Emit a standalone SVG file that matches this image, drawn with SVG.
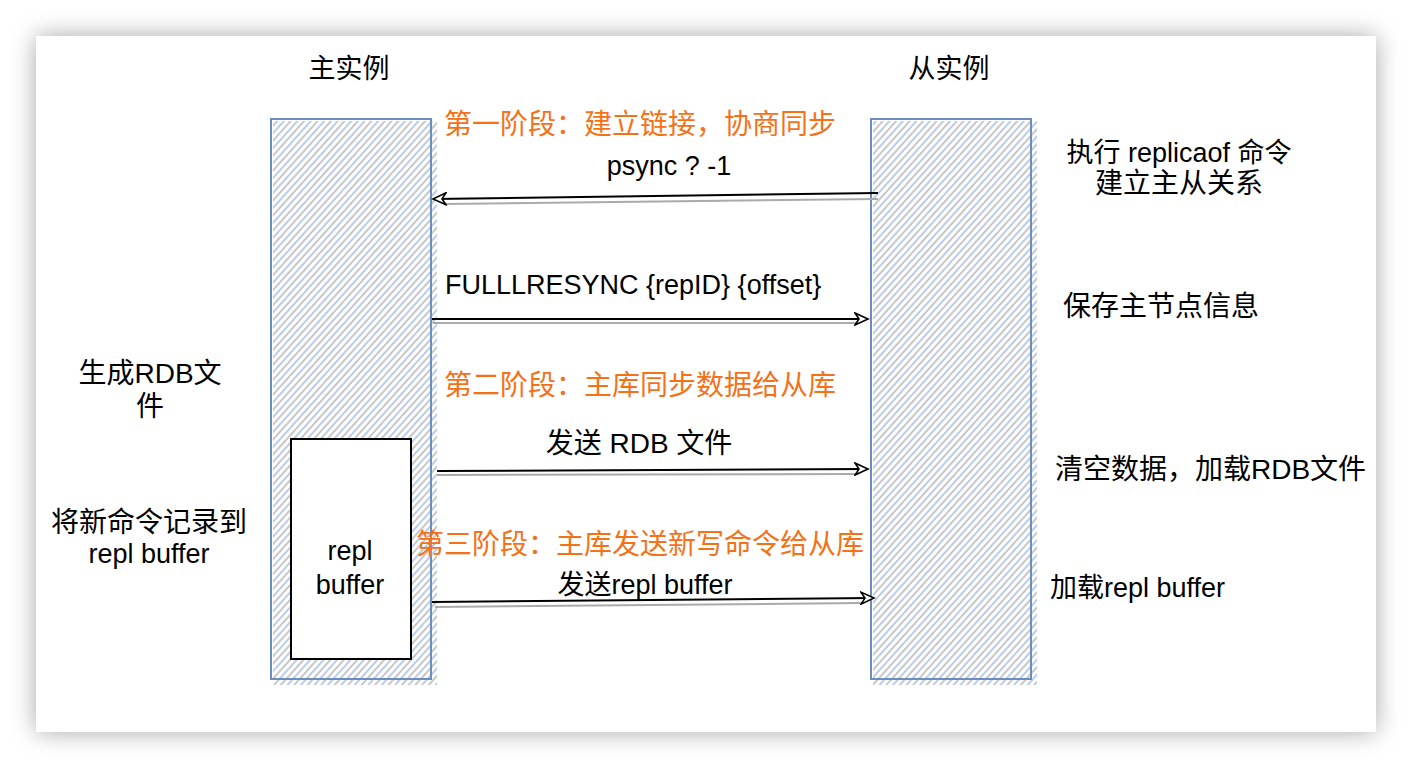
<svg xmlns="http://www.w3.org/2000/svg" width="1412" height="768" viewBox="0 0 1412 768">
<style>
text{font-family:"Liberation Sans","Noto Sans CJK SC",sans-serif;font-size:27px;fill:#000}
.ph{fill:#f57118;font-size:28px}
.cj{font-size:28px}
.mid{text-anchor:middle}
.lane{fill:none;stroke:#6c8ebf;stroke-width:2}
.ln{fill:none;stroke:#000;stroke-width:2}
.sh{fill:none;stroke:#aaa;stroke-width:2}
</style>
<defs>
<filter id="shadow" x="-5%" y="-5%" width="110%" height="110%">
<feDropShadow dx="0" dy="0" stdDeviation="12" flood-color="#000" flood-opacity="0.35"/>
</filter>
<pattern id="hatch" width="10" height="10" patternUnits="userSpaceOnUse" patternTransform="rotate(42)">
<line x1="2" y1="0" x2="2" y2="10" stroke="#9bb6df" stroke-width="1.4"/>
<line x1="7" y1="0" x2="7" y2="10" stroke="#8f8f8f" stroke-width="1"/>
</pattern>
<marker id="arr" markerWidth="16" markerHeight="14" refX="14" refY="7" orient="auto" markerUnits="userSpaceOnUse">
<path d="M1,1 L14,7 L1,13 L5,7 Z" fill="#fff" stroke="#000" stroke-width="1.6"/>
</marker>
</defs>
<rect x="0" y="0" width="1412" height="768" fill="#fff"/>
<rect x="36" y="36" width="1340" height="696" fill="#fff" filter="url(#shadow)"/>

<g id="master">
<rect x="273" y="121" width="164" height="564" fill="url(#hatch)"/>
<rect x="271" y="119" width="160" height="560" class="lane"/>
<text x="349" y="78" class="mid">主实例</text>
</g>
<g id="slave">
<rect x="873" y="121" width="164" height="564" fill="url(#hatch)"/>
<rect x="871" y="119" width="160" height="560" class="lane"/>
<text x="949" y="78" class="mid">从实例</text>
</g>
<g id="repl-buffer">
<rect x="291" y="439" width="120" height="220" fill="#fff" stroke="#000" stroke-width="2"/>
<text x="350" y="560" class="mid">repl</text>
<text x="350" y="594" class="mid">buffer</text>
</g>

<g id="connectors">
<path d="M878,199 L445,204" class="sh"/>
<path d="M878,193 L433,199" class="ln" marker-end="url(#arr)"/>
<path d="M433,323 L858,323" class="sh"/>
<path d="M432,319 L868,319" class="ln" marker-end="url(#arr)"/>
<path d="M437,475 L858,474" class="sh"/>
<path d="M437,471 L868,469" class="ln" marker-end="url(#arr)"/>
<path d="M435,607 L862,603" class="sh"/>
<path d="M432,602 L874,598" class="ln" marker-end="url(#arr)"/>
</g>

<g id="labels">
<text x="444" y="134" class="ph">第一阶段：建立链接，协商同步</text>
<text x="669" y="175" class="mid">psync ? -1</text>
<text x="445" y="294">FULLLRESYNC {repID} {offset}</text>
<text x="444" y="395" class="ph">第二阶段：主库同步数据给从库</text>
<text x="639" y="453" class="mid cj">发送 RDB 文件</text>
<text x="416" y="554" class="ph">第三阶段：主库发送新写命令给从库</text>
<text x="645" y="594" class="mid">发送repl buffer</text>
</g>

<g id="slave-notes">
<text x="1179" y="162" class="mid">执行 replicaof 命令</text>
<text x="1179" y="193" class="mid cj">建立主从关系</text>
<text x="1063" y="316" class="cj">保存主节点信息</text>
<text x="1055" y="479" class="cj">清空数据，加载RDB文件</text>
<text x="1050" y="597">加载repl buffer</text>
</g>

<g id="master-notes">
<text x="150" y="383" class="mid cj">生成RDB文</text>
<text x="150" y="416" class="mid cj">件</text>
<text x="149" y="532" class="mid cj">将新命令记录到</text>
<text x="149" y="563" class="mid">repl buffer</text>
</g>
</svg>
